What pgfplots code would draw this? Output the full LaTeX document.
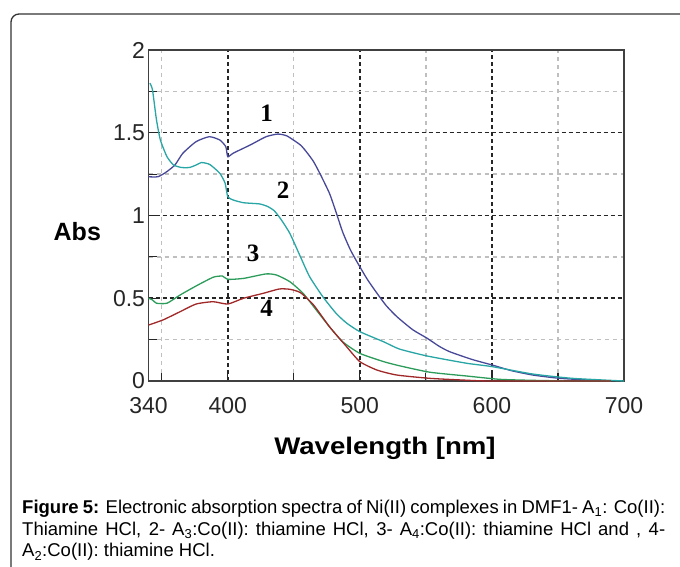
\documentclass[border=0pt]{standalone}
\usepackage{pgfplots}
\pgfplotsset{compat=1.18}
\usepackage{fontspec}
\setmainfont{Liberation Sans}
\newfontfamily\timesfont{Liberation Serif}

\definecolor{cNavy}{RGB}{72,72,152}
\definecolor{cTeal}{RGB}{40,165,165}
\definecolor{cGreen}{RGB}{45,155,90}
\definecolor{cRed}{RGB}{160,40,40}

\newcommand\capfont{\fontsize{18.5bp}{22bp}\selectfont}
\newcommand\numfont{\timesfont\bfseries\fontsize{25bp}{28bp}\selectfont}
\newcommand\capline[1]{{\capfont\makebox[643bp][s]{#1}}}

% curve 1
\pgfplotstableread{
x y
340 1.234
347 1.234
353 1.26
360 1.305
366 1.376
376 1.446
386 1.476
394 1.456
398.5 1.416
400 1.355
404 1.376
417 1.426
429 1.476
438 1.492
445 1.48
455 1.426
460 1.38
465 1.325
470 1.25
477 1.134
482 1.02
487 0.90
493 0.79
500 0.69
506 0.61
513 0.53
520 0.455
528 0.389
540 0.31
551 0.258
560 0.21
568 0.177
585 0.13
600 0.097
615 0.062
631 0.036
650 0.017
672 0.006
690 0.0
}\curveA

% curve 2
\pgfplotstableread{
x y
341 1.80
343 1.76
346 1.58
349 1.456
354 1.355
359 1.305
365 1.29
371 1.29
376 1.305
380 1.32
384 1.315
387 1.305
394 1.255
398 1.195
400 1.114
404 1.094
412 1.077
424 1.07
430 1.055
435 1.03
440 0.98
447 0.892
455 0.751
462 0.63
472 0.509
482 0.409
490 0.35
500 0.298
518 0.237
530 0.193
551 0.151
581 0.107
600 0.087
631 0.042
661 0.016
700 0.0
}\curveB

% curve 3
\pgfplotstableread{
x y
340 0.50
343 0.49
346 0.47
354 0.47
364 0.52
376 0.574
389 0.627
396 0.634
400 0.614
412 0.62
429 0.647
437 0.64
447 0.60
457 0.53
467 0.429
477 0.328
487 0.237
500 0.167
518 0.117
530 0.092
553 0.053
581 0.03
606 0.01
631 0.004
660 0.0
690 0.0
}\curveC

% curve 4
\pgfplotstableread{
x y
340 0.338
351 0.369
364 0.419
376 0.465
389 0.479
400 0.465
412 0.50
427 0.53
439 0.556
447 0.554
455 0.534
465 0.459
477 0.328
490 0.207
500 0.117
513 0.066
528 0.036
553 0.016
580 0.005
600 0.0
690 0.0
}\curveD

\begin{document}
\begin{tikzpicture}[x=1bp,y=1bp]
\path[use as bounding box] (0,0) rectangle (680,567);
\draw[black!80, line width=1.3bp, rounded corners=8bp] (11,-5) -- (11,553) -- (690,553);

\begin{axis}[
    at={(148.5bp,186bp)}, anchor=south west,
    scale only axis,
    width=475.5bp, height=331bp,
    xmin=340, xmax=700, ymin=0, ymax=2,
    xtick={340,400,500,600,700},
    xticklabels={340,400,500,600,700},
    minor xtick={350,450,550,650},
    ytick={0,0.5,1,1.5,2},
    yticklabels={0,0.5,1,1.5,2},
    minor ytick={0.25,0.75,1.25,1.75},
    tick pos=left,
    tick align=inside,
    major tick length=8bp, minor tick length=8bp,
    every tick/.style={black!85, line width=1.2bp},
    grid=both,
    major grid style={black!85, line width=1.5bp, dash pattern=on 4bp off 3bp},
    minor grid style={black!25, line width=1.4bp, dash pattern=on 4bp off 4bp},
    axis line style={black!75, line width=1.6bp},
    tick label style={font=\fontsize{23bp}{27bp}\selectfont, text=black!85},
    xticklabel style={yshift=-13bp},
    clip=false,
]
\addplot[cNavy, line width=1.3bp, smooth, tension=0.35] table {\curveA};
\addplot[cTeal, line width=1.3bp, smooth, tension=0.35] table {\curveB};
\addplot[cGreen, line width=1.3bp, smooth, tension=0.35] table {\curveC};
\addplot[cRed, line width=1.3bp, smooth, tension=0.35] table {\curveD};

\node at (axis cs:429.4,1.617) {\numfont 1};
\node at (axis cs:442,1.154) {\numfont 2};
\node at (axis cs:419.3,0.772) {\numfont 3};
\node at (axis cs:429.4,0.439) {\numfont 4};
\end{axis}

\node at (77.3,335.3) {\fontsize{25bp}{28bp}\selectfont\bfseries Abs};
\node[anchor=base] at (385,112) {\scalebox{1.15}[1]{\fontsize{24bp}{28bp}\selectfont\bfseries Wavelength [nm]}};

\node[anchor=base west, inner sep=0] at (22,53) {\capline{\textbf{Figure 5:} Electronic absorption spectra of Ni(II) complexes in DMF1- A\textsubscript{1}: Co(II):}};
\node[anchor=base west, inner sep=0] at (22,31.5) {\capline{Thiamine HCl, 2- A\textsubscript{3}:Co(II): thiamine HCl, 3- A\textsubscript{4}:Co(II): thiamine HCl and , 4-}};
\node[anchor=base west, inner sep=0] at (22,10) {\capfont A\textsubscript{2}:Co(II): thiamine HCl.};
\end{tikzpicture}
\end{document}
